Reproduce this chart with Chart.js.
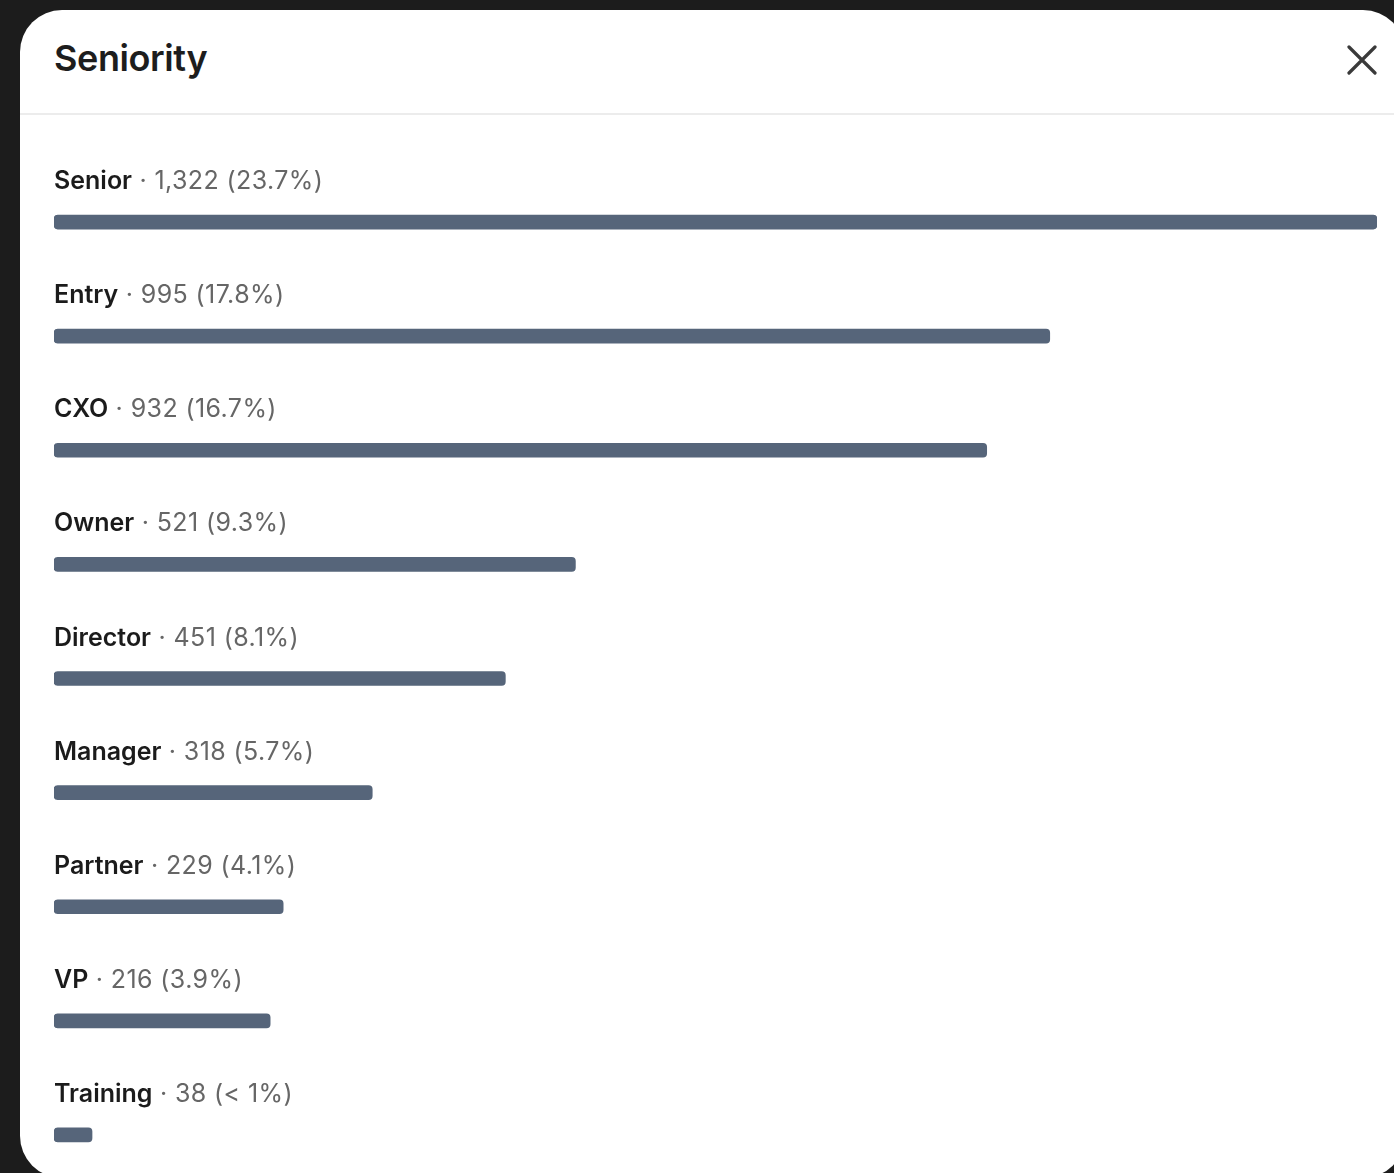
<!DOCTYPE html>
<html lang="en">
<head>
  <meta charset="UTF-8">
  <title>Seniority</title>
  <script src="https://cdn.jsdelivr.net/npm/chart.js"></script>
  <style>
    body, html {
      width: 1394px;
      height: 1173px;
      margin: 0;
      padding: 0;
      overflow: hidden;
      background-color: #1c1c1c;
      font-family: Inter, "Liberation Sans", Arial, sans-serif;
    }

    .panel {
      position: absolute;
      left: 20px;
      top: 10px;
      width: 1385px;
      height: 1168px;
      background-color: #ffffff;
      border-radius: 42px;
      overflow: hidden;
    }

    .title {
      position: absolute;
      left: 34px;
      top: 26px;
      font-size: 36px;
      font-weight: 600;
      color: #1d1d1d;
      letter-spacing: -0.4px;
    }

    .close {
      position: absolute;
      left: 1327px;
      top: 35px;
      width: 30px;
      height: 30px;
    }

    .divider {
      position: absolute;
      left: 0;
      top: 103px;
      width: 100%;
      border-top: 2px solid #ececec;
    }

    .chart-box {
      position: absolute;
      left: 34px;
      top: 130px;
      width: 1323px;
      height: 1052px;
    }
  </style>
</head>
<body>
  <div class="panel">
    <div class="title">Seniority</div>
    <svg class="close" viewBox="0 0 30 30">
      <path d="M2 2 L28 28 M28 2 L2 28" stroke="#3a3a3a" stroke-width="3.2" stroke-linecap="round" />
    </svg>
    <div class="divider"></div>
    <div class="chart-box">
      <canvas id="seniorityChart"></canvas>
    </div>
  </div>

  <script>
    const categories = ['Senior', 'Entry', 'CXO', 'Owner', 'Director', 'Manager', 'Partner', 'VP', 'Training'];
    const counts = [1322, 995, 932, 521, 451, 318, 229, 216, 38];
    const shares = ['23.7%', '17.8%', '16.7%', '9.3%', '8.1%', '5.7%', '4.1%', '3.9%', '< 1%'];

    // draws "Name · count (share)" above each bar
    const rowLabels = {
      id: 'rowLabels',
      afterDatasetsDraw(chart) {
        const ctx = chart.ctx;
        const meta = chart.getDatasetMeta(0);
        ctx.save();
        ctx.textBaseline = 'alphabetic';
        ctx.textAlign = 'left';
        meta.data.forEach((bar, i) => {
          const x = chart.chartArea.left;
          const y = bar.y - 33;
          ctx.letterSpacing = '0px';
          ctx.font = '600 25px Inter, "Liberation Sans", sans-serif';
          ctx.fillStyle = '#1b1b1b';
          ctx.fillText(categories[i], x, y);
          const w = ctx.measureText(categories[i]).width;
          ctx.letterSpacing = '0.4px';
          ctx.font = '400 25px Inter, "Liberation Sans", sans-serif';
          ctx.fillStyle = '#666666';
          ctx.fillText(' \u00b7 ' + counts[i].toLocaleString('en-US') + ' (' + shares[i] + ')', x + w, y);
        });
        ctx.restore();
      }
    };

    new Chart(document.getElementById('seniorityChart'), {
      type: 'bar',
      data: {
        labels: categories,
        datasets: [{
          data: counts,
          backgroundColor: '#56657a',
          barThickness: 14,
          borderRadius: 4,
          borderSkipped: false
        }]
      },
      options: {
        indexAxis: 'y',
        responsive: true,
        maintainAspectRatio: false,
        animation: false,
        layout: { padding: { top: 25, left: 0, right: 0, bottom: 0 } },
        plugins: {
          legend: { display: false },
          tooltip: { enabled: false }
        },
        scales: {
          x: { display: false, min: 0, max: 1322 },
          y: { display: false }
        }
      },
      plugins: [rowLabels]
    });
  </script>
</body>
</html>
